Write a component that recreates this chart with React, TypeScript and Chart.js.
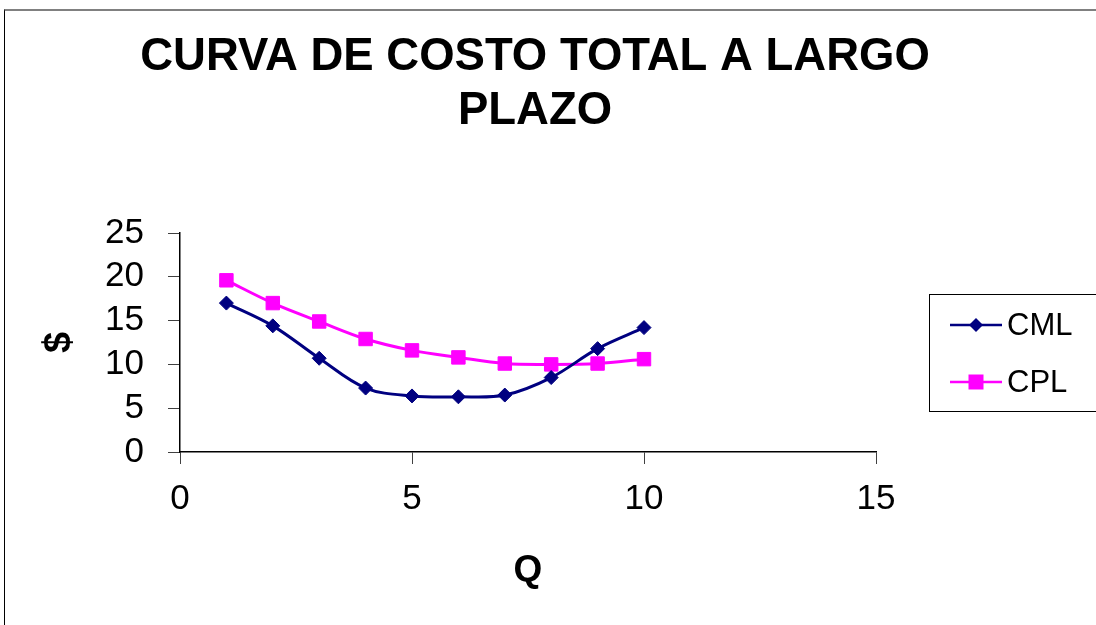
import { useEffect, useRef } from "react";
import { Chart, registerables } from "chart.js";

Chart.register(...registerables);

const TITLE_LINES = ["CURVA DE COSTO TOTAL A LARGO", "PLAZO"];
const Q_VALUES = [1, 2, 3, 4, 5, 6, 7, 8, 9, 10];
const CML_VALUES = [17.0, 14.4, 10.7, 7.3, 6.4, 6.3, 6.5, 8.5, 11.8, 14.2];
const CPL_VALUES = [19.6, 17.0, 14.9, 12.9, 11.6, 10.8, 10.1, 10.0, 10.1, 10.6];
const SERIES_NAMES = ["CML", "CPL"];
const X_TICKS = [0, 5, 10, 15];
const Y_TICKS = [0, 5, 10, 15, 20, 25];
const X_TITLE = "Q";
const Y_TITLE = "$";

const FONT = '"Liberation Sans", Arial, sans-serif';

const titlePlugin = {
  id: "customTitle",
  afterDraw(chart: any) {
    const ctx = chart.ctx;
    ctx.save();
    ctx.fillStyle = "#000";
    ctx.font = `bold 45.5px ${FONT}`;
    ctx.textAlign = "center";
    ctx.textBaseline = "alphabetic";
    TITLE_LINES.forEach((line, i) => {
      ctx.fillText(line, 535, 70 + i * 54);
    });
    ctx.restore();
  },
};

const legendPlugin = {
  id: "boxLegend",
  afterDraw(chart: any) {
    const ctx = chart.ctx;
    ctx.save();
    ctx.strokeStyle = "#000";
    ctx.lineWidth = 1;
    ctx.strokeRect(929.5, 294.5, 200, 117);
    const rows = [325, 382];
    chart.data.datasets.forEach((ds: any, i: number) => {
      const y = rows[i];
      ctx.strokeStyle = ds.borderColor;
      ctx.lineWidth = 2.5;
      ctx.beginPath();
      ctx.moveTo(950, y);
      ctx.lineTo(1002, y);
      ctx.stroke();
      ctx.fillStyle = ds.pointBackgroundColor;
      ctx.beginPath();
      const cx = 976;
      if (ds.pointStyle === "rectRot") {
        const r = 7;
        ctx.moveTo(cx - r, y);
        ctx.lineTo(cx, y - r);
        ctx.lineTo(cx + r, y);
        ctx.lineTo(cx, y + r);
        ctx.closePath();
      } else {
        const h = 7.5;
        ctx.rect(cx - h, y - h, 2 * h, 2 * h);
      }
      ctx.fill();
      ctx.fillStyle = "#000";
      ctx.font = `31px ${FONT}`;
      ctx.textAlign = "left";
      ctx.textBaseline = "middle";
      ctx.fillText(ds.label, 1007, y + 1);
    });
    ctx.restore();
  },
};

export default function App() {
  const canvasRef = useRef<HTMLCanvasElement | null>(null);

  useEffect(() => {
    const canvas = canvasRef.current;
    if (!canvas) return;
    const chart = new Chart(canvas, {
      type: "line",
      data: {
        datasets: [
          {
            label: SERIES_NAMES[0],
            data: Q_VALUES.map((q, i) => ({ x: q, y: CML_VALUES[i] })),
            borderColor: "#000080",
            backgroundColor: "#000080",
            pointBackgroundColor: "#000080",
            pointBorderColor: "#000080",
            pointStyle: "rectRot",
            pointRadius: 7,
            pointBorderWidth: 1,
            borderWidth: 3,
            tension: 0.35,
            fill: false,
          },
          {
            label: SERIES_NAMES[1],
            data: Q_VALUES.map((q, i) => ({ x: q, y: CPL_VALUES[i] })),
            borderColor: "#FF00FF",
            backgroundColor: "#FF00FF",
            pointBackgroundColor: "#FF00FF",
            pointBorderColor: "#FF00FF",
            pointStyle: "rect",
            pointRadius: 9.5,
            pointBorderWidth: 1,
            borderWidth: 3,
            tension: 0.35,
            fill: false,
          },
        ],
      },
      options: {
        responsive: false,
        animation: false,
        layout: { padding: { top: 233, right: 220, bottom: 0, left: 0 } },
        plugins: {
          legend: { display: false },
          title: { display: false },
          tooltip: { enabled: false },
        },
        scales: {
          x: {
            type: "linear",
            min: X_TICKS[0],
            max: X_TICKS[X_TICKS.length - 1],
            afterFit: (s: any) => {
              s.height = 173;
            },
            afterBuildTicks: (s: any) => {
              s.ticks = X_TICKS.map((v) => ({ value: v }));
            },
            grid: {
              drawOnChartArea: false,
              drawTicks: true,
              tickLength: 12,
              color: "#404040",
            },
            border: { color: "#000", width: 1.5 },
            ticks: {
              color: "#000",
              font: { family: FONT, size: 35 },
              padding: 14,
              maxRotation: 0,
              autoSkip: false,
            },
            title: {
              display: true,
              text: X_TITLE,
              color: "#000",
              font: { family: FONT, size: 37, weight: "bold" },
              padding: { top: 0, bottom: 32 },
            },
          },
          y: {
            type: "linear",
            min: Y_TICKS[0],
            max: Y_TICKS[Y_TICKS.length - 1],
            afterFit: (s: any) => {
              s.width = 180;
            },
            afterBuildTicks: (s: any) => {
              s.ticks = Y_TICKS.map((v) => ({ value: v }));
            },
            grid: {
              drawOnChartArea: false,
              drawTicks: true,
              tickLength: 12,
              color: "#404040",
            },
            border: { color: "#000", width: 1.5 },
            ticks: {
              color: "#000",
              font: { family: FONT, size: 35 },
              padding: 24,
              autoSkip: false,
            },
            title: {
              display: true,
              text: Y_TITLE,
              color: "#000",
              font: { family: FONT, size: 38, weight: "bold" },
              padding: { top: 37, bottom: 0 },
            },
          },
        },
      },
      plugins: [titlePlugin, legendPlugin],
    } as any);
    return () => chart.destroy();
  }, []);

  return (
    <div
      style={{
        position: "absolute",
        left: 0,
        top: 0,
        width: 1096,
        height: 625,
        overflow: "hidden",
        background: "#fff",
      }}
    >
      <div
        style={{
          position: "absolute",
          left: 4,
          top: 9,
          width: 1200,
          height: 800,
          borderTop: "2px solid #808080",
          borderLeft: "1px solid #000",
        }}
      />
      <canvas
        ref={canvasRef}
        width={1096}
        height={625}
        style={{ position: "absolute", left: 0, top: 0, width: 1096, height: 625 }}
      />
    </div>
  );
}
